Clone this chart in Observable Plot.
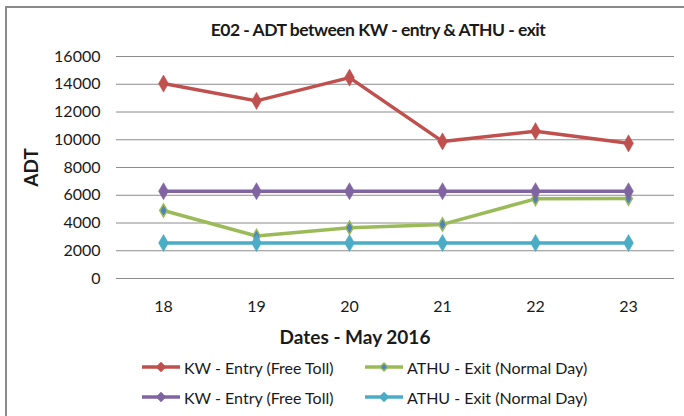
<!DOCTYPE html>
<html>
<head>
<meta charset="utf-8">
<script src="https://cdn.jsdelivr.net/npm/d3@7"></script>
<script src="https://cdn.jsdelivr.net/npm/@observablehq/plot@0.6"></script>
<style>
  html, body { margin: 0; padding: 0; background: #fff; }
  body { width: 684px; height: 416px; overflow: hidden; position: relative; font-family: Lato, "Open Sans", sans-serif; color: #1a1a1a; }
  #frame { position: absolute; left: 5px; top: 6px; width: 720px; height: 440px; border-left: 2px solid #8a8a8a; border-top: 2px solid #8a8a8a; }
  #title { position: absolute; left: 0; width: 756px; top: 19px; text-align: center; font-weight: bold; font-size: 17.5px; letter-spacing: -0.5px; }
  #chart { position: absolute; left: 0; top: 40px; }
  #xlabel { position: absolute; left: 0; width: 710px; top: 325px; text-align: center; font-weight: bold; font-size: 19px; }
  .leg { position: absolute; display: flex; align-items: center; font-size: 16px; white-space: nowrap; }
  .leg svg { margin-right: 4px; }
  #chart g[aria-label="y-axis label"] text { font-weight: bold; font-size: 19px; }
</style>
</head>
<body>
<div id="frame"></div>
<div id="title">E02 - ADT between KW - entry &amp; ATHU - exit</div>
<div id="chart"></div>
<div id="xlabel">Dates - May 2016</div>
<div id="legend"></div>
<script>
const dates = ["18", "19", "20", "21", "22", "23"];
const kwEntryFreeToll = [14050, 12800, 14480, 9880, 10620, 9740];
const athuExitNormalDay = [4900, 3060, 3660, 3900, 5740, 5760];
const kwEntryFreeToll2 = [6290, 6290, 6290, 6290, 6290, 6290];
const athuExitNormalDay2 = [2560, 2560, 2560, 2560, 2560, 2560];
const yTicks = [0, 2000, 4000, 6000, 8000, 10000, 12000, 14000, 16000];
const seriesNames = ["KW - Entry (Free Toll)", "ATHU - Exit (Normal Day)", "KW - Entry (Free Toll)", "ATHU - Exit (Normal Day)"];
const seriesValues = [kwEntryFreeToll, athuExitNormalDay, kwEntryFreeToll2, athuExitNormalDay2];
const lineColors = ["#C0504D", "#9BBB59", "#8064A2", "#4BACC6"];
const markerFills = ["#C0504D", "#4F81BD", "#8064A2", "#4BACC6"];

const rows = [];
seriesValues.forEach((vals, s) => vals.forEach((v, i) => rows.push({ s, date: dates[i], value: v })));

const marks = [
  Plot.ruleY(yTicks, { stroke: "#8c8c8c", strokeWidth: 1 }),
  Plot.axisY({ ticks: yTicks, tickSize: 0, tickPadding: 16, tickFormat: d3.format("d"),
    label: "ADT", labelAnchor: "center", labelArrow: "none", labelOffset: 92 }),
  Plot.axisX({ tickSize: 0, tickPadding: 22, label: null })
];
seriesValues.forEach((vals, s) => {
  const data = rows.filter(r => r.s === s);
  marks.push(Plot.line(data, { x: "date", y: "value", stroke: lineColors[s], strokeWidth: 3.5 }));
  marks.push(Plot.dot(data, { x: "date", y: "value", symbol: "diamond", r: s === 1 ? 4 : 5.2,
    fill: markerFills[s], stroke: lineColors[s], strokeWidth: s === 1 ? 1.5 : 0.5 }));
});

const chart = Plot.plot({
  width: 684, height: 310,
  marginLeft: 116, marginRight: 10, marginTop: 16, marginBottom: 72,
  style: { fontFamily: "Lato, 'Open Sans', sans-serif", fontSize: "16px", color: "#1a1a1a", background: "transparent", overflow: "visible" },
  x: { type: "point", domain: dates, padding: 0.5 },
  y: { domain: [0, 16000] },
  marks
});
document.getElementById("chart").append(chart);

// legend
const legendPos = [[142, 367], [365, 367], [142, 397], [365, 397]];
const legend = document.getElementById("legend");
seriesNames.forEach((name, s) => {
  const div = document.createElement("div");
  div.className = "leg";
  div.style.left = legendPos[s][0] + "px";
  div.style.top = (legendPos[s][1] - 10) + "px";
  const sw = d3.create("svg").attr("width", 38).attr("height", 20);
  sw.append("line").attr("x1", 0).attr("x2", 38).attr("y1", 10).attr("y2", 10)
    .attr("stroke", lineColors[s]).attr("stroke-width", 3.5);
  const r = s === 1 ? 4 : 5;
  sw.append("path").attr("d", `M19,${10 - r}L${19 + r},10L19,${10 + r}L${19 - r},10Z`)
    .attr("fill", markerFills[s]).attr("stroke", lineColors[s]).attr("stroke-width", s === 1 ? 1.5 : 0.5);
  div.append(sw.node());
  const span = document.createElement("span");
  span.textContent = name;
  div.append(span);
  legend.append(div);
});
</script>
</body>
</html>
